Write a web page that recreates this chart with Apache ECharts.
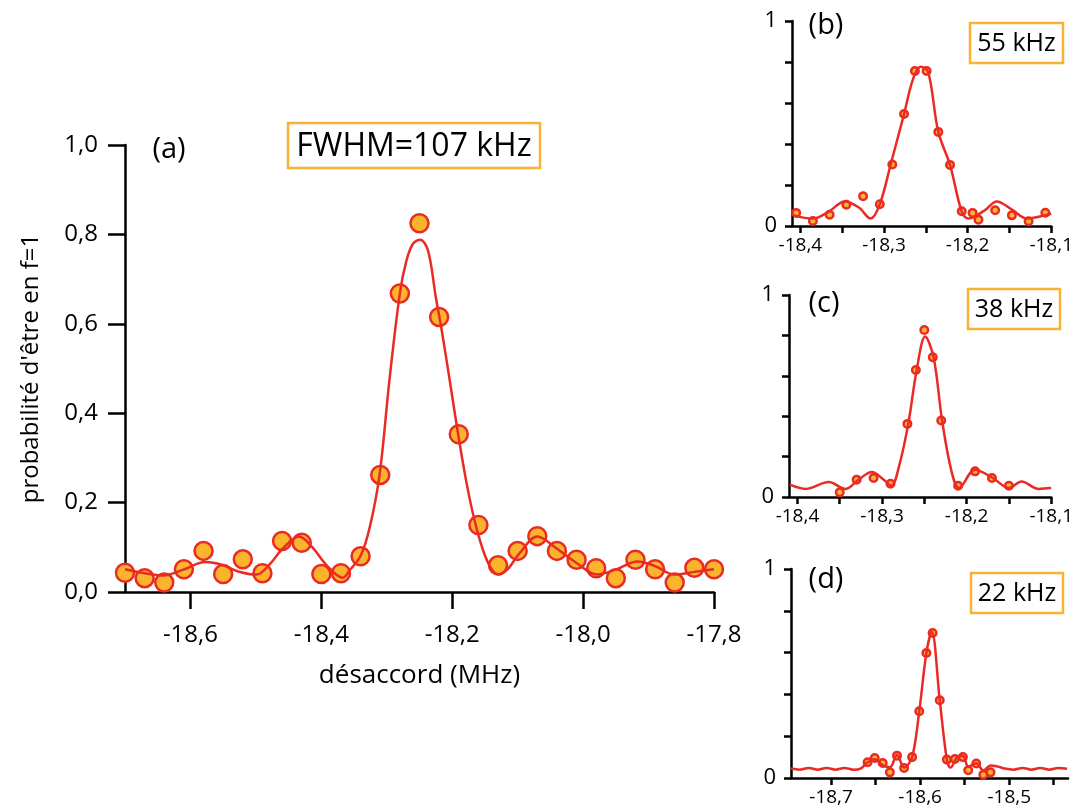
<!DOCTYPE html>
<html>
<head>
<meta charset="utf-8">
<script src="https://cdn.jsdelivr.net/npm/echarts@6/dist/echarts.min.js"></script>
<style>
  html, body { margin: 0; padding: 0; background: #fff; }
  #chart { width: 1076px; height: 809px; }
</style>
</head>
<body>
<div id="chart"></div>
<script>
// (a) mesures + ajustement
var aX = [-18.70, -18.67, -18.64, -18.61, -18.58, -18.55, -18.52, -18.49, -18.46, -18.43, -18.40, -18.37, -18.34, -18.31, -18.28, -18.25,
  -18.22, -18.19, -18.16, -18.13, -18.10, -18.07, -18.04, -18.01, -17.98, -17.95, -17.92, -17.89, -17.86, -17.83, -17.80];
var aY = [0.043, 0.031, 0.021, 0.051, 0.092, 0.040, 0.073, 0.042, 0.114, 0.110, 0.040, 0.042, 0.080, 0.262, 0.668, 0.825,
  0.615, 0.353, 0.150, 0.060, 0.092, 0.125, 0.092, 0.072, 0.053, 0.031, 0.072, 0.051, 0.021, 0.054, 0.051];
var aFitX = [-18.70, -18.67, -18.641, -18.611, -18.577, -18.552, -18.527, -18.499, -18.477, -18.461, -18.434, -18.415, -18.39, -18.367,
  -18.357, -18.340, -18.326, -18.311, -18.296, -18.280, -18.270, -18.260, -18.249, -18.237, -18.225, -18.216, -18.203, -18.191,
  -18.178, -18.166, -18.153, -18.141, -18.130, -18.116, -18.097, -18.070, -18.041, -18.010, -17.979, -17.95, -17.917, -17.89,
  -17.861, -17.83, -17.80];
var aFitY = [0.051, 0.042, 0.037, 0.050, 0.067, 0.061, 0.046, 0.039, 0.065, 0.094, 0.124, 0.102, 0.057, 0.032,
  0.048, 0.081, 0.145, 0.262, 0.473, 0.668, 0.741, 0.779, 0.788, 0.764, 0.659, 0.585, 0.466, 0.353,
  0.243, 0.161, 0.094, 0.054, 0.039, 0.050, 0.087, 0.124, 0.098, 0.065, 0.039, 0.050, 0.068, 0.058,
  0.039, 0.045, 0.051];

// (b) 55 kHz
var bX = [-18.405, -18.385, -18.365, -18.345, -18.325, -18.305, -18.29, -18.276, -18.263, -18.249, -18.235, -18.221, -18.207,
  -18.194, -18.187, -18.167, -18.147, -18.127, -18.107];
var bY = [0.064, 0.024, 0.055, 0.104, 0.145, 0.106, 0.300, 0.546, 0.756, 0.756, 0.459, 0.298, 0.072,
  0.064, 0.031, 0.077, 0.052, 0.023, 0.065];
var bFitX = [-18.408, -18.385, -18.366, -18.347, -18.33, -18.316, -18.305, -18.292, -18.276, -18.265, -18.256, -18.247, -18.235,
  -18.221, -18.207, -18.199, -18.18, -18.165, -18.147, -18.129, -18.115, -18.1];
var bFitY = [0.052, 0.036, 0.07, 0.120, 0.09, 0.036, 0.106, 0.300, 0.546, 0.72, 0.777, 0.75, 0.459,
  0.298, 0.07, 0.036, 0.075, 0.12, 0.08, 0.036, 0.045, 0.06];

// (c) 38 kHz
var cX = [-18.35, -18.33, -18.31, -18.29, -18.27, -18.26, -18.25, -18.24, -18.23, -18.21, -18.19, -18.17, -18.15];
var cY = [0.023, 0.086, 0.094, 0.066, 0.362, 0.629, 0.827, 0.692, 0.379, 0.056, 0.127, 0.094, 0.056];
var cFitX = [-18.409, -18.39, -18.363, -18.343, -18.328, -18.312, -18.298, -18.289, -18.28, -18.269, -18.259, -18.249, -18.239,
  -18.229, -18.218, -18.209, -18.19, -18.169, -18.15, -18.135, -18.115, -18.1];
var cFitY = [0.061, 0.040, 0.074, 0.040, 0.085, 0.124, 0.085, 0.056, 0.15, 0.362, 0.629, 0.794, 0.69,
  0.379, 0.13, 0.044, 0.135, 0.094, 0.044, 0.077, 0.040, 0.044];

// (d) 22 kHz
var dX = [-18.659, -18.651, -18.642, -18.634, -18.626, -18.618, -18.609, -18.601, -18.593, -18.586, -18.578, -18.570,
  -18.561, -18.552, -18.546, -18.537, -18.529, -18.521];
var dY = [0.075, 0.096, 0.072, 0.027, 0.107, 0.048, 0.100, 0.319, 0.598, 0.694, 0.372, 0.088,
  0.091, 0.100, 0.037, 0.069, 0.016, 0.027];
var dFitX = [-18.745, -18.735, -18.725, -18.715, -18.705, -18.695, -18.685, -18.675, -18.667, -18.659, -18.651, -18.642, -18.634,
  -18.626, -18.618, -18.609, -18.601, -18.593, -18.587, -18.578, -18.570, -18.566, -18.558, -18.552, -18.546, -18.537, -18.529,
  -18.521, -18.513, -18.505, -18.495, -18.485, -18.475, -18.465, -18.455, -18.445, -18.435];
var dFitY = [0.045, 0.040, 0.048, 0.040, 0.048, 0.040, 0.048, 0.040, 0.045, 0.075, 0.09, 0.06, 0.051,
  0.11, 0.05, 0.10, 0.32, 0.598, 0.70, 0.372, 0.088, 0.05, 0.10, 0.105, 0.055, 0.07, 0.036,
  0.06, 0.055, 0.045, 0.040, 0.048, 0.040, 0.048, 0.040, 0.048, 0.044];

var RED = '#EA2A24';
var ORANGE = '#FBB42B';
var FONT = '"Open Sans", "Noto Sans", sans-serif';

function pairs(xs, ys) {
  return xs.map(function (x, i) { return [x, ys[i]]; });
}
function comma(v) {
  return v.toFixed(1).replace('.', ',');
}

// petit panneau (b), (c), (d)
function smallX(idx, min, max, ticks, labels) {
  return {
    gridIndex: idx, type: 'value', min: min, max: max,
    axisLine: { lineStyle: { color: '#000', width: 2.5 } },
    axisTick: { customValues: ticks, length: 7, lineStyle: { color: '#000', width: 2.5 } },
    axisLabel: { customValues: labels, formatter: comma, margin: 10, color: '#000', fontSize: 19, fontFamily: FONT },
    splitLine: { show: false }
  };
}
function smallY(idx) {
  return {
    gridIndex: idx, type: 'value', min: 0, max: 1, interval: 0.2,
    axisLine: { show: true, lineStyle: { color: '#000', width: 2.5 } },
    axisTick: { show: true, length: 7, lineStyle: { color: '#000', width: 2.5 } },
    axisLabel: { customValues: [0, 1], margin: 15, color: '#000', fontSize: 22, fontFamily: FONT },
    splitLine: { show: false }
  };
}
function dots(idx, xs, ys, size, bw) {
  return {
    type: 'scatter', xAxisIndex: idx, yAxisIndex: idx, data: pairs(xs, ys), clip: false,
    symbolSize: size, itemStyle: { color: ORANGE, borderColor: RED, borderWidth: bw, opacity: 1 }, z: 2
  };
}
function fit(idx, xs, ys, w) {
  return {
    type: 'line', xAxisIndex: idx, yAxisIndex: idx, data: pairs(xs, ys), smooth: 0.35,
    showSymbol: false, lineStyle: { color: RED, width: w }, z: 3
  };
}
function box(x, y, w, h, txt, size) {
  return [
    { type: 'rect', shape: { x: x, y: y, width: w, height: h }, style: { fill: '#fff', stroke: '#F9B233', lineWidth: 2.5 }, z: 10 },
    { type: 'text', x: x + w / 2, y: y + h / 2 + 1, style: { text: txt, fill: '#000', font: size + 'px ' + FONT, align: 'center', verticalAlign: 'middle' }, z: 11 }
  ];
}
function panelLabel(x, y, txt, size) {
  return { type: 'text', x: x, y: y, style: { text: txt, fill: '#000', font: size + 'px ' + FONT, align: 'center', verticalAlign: 'middle' }, z: 11 };
}

var myChart = echarts.init(document.getElementById('chart'));
var option = {
  backgroundColor: '#fff',
  animation: false,
  grid: [
    { left: 125, top: 145, width: 589, height: 447 },
    { left: 792, top: 21, width: 270, height: 205 },
    { left: 789, top: 295, width: 268, height: 202 },
    { left: 791, top: 569, width: 277, height: 209 }
  ],
  xAxis: [
    {
      gridIndex: 0, type: 'value', min: -18.7, max: -17.8,
      name: 'désaccord (MHz)', nameLocation: 'middle', nameGap: 71,
      nameTextStyle: { color: '#000', fontSize: 26, fontFamily: FONT },
      axisLine: { lineStyle: { color: '#000', width: 2.5 } },
      axisTick: { customValues: [-18.6, -18.4, -18.2, -18.0, -17.8], length: 17, lineStyle: { color: '#000', width: 2.5 } },
      axisLabel: { customValues: [-18.6, -18.4, -18.2, -18.0, -17.8], formatter: comma, margin: 31, color: '#000', fontSize: 24, fontFamily: FONT },
      splitLine: { show: false }
    },
    smallX(1, -18.41, -18.1, [-18.4, -18.35, -18.3, -18.25, -18.2, -18.15, -18.1], [-18.4, -18.3, -18.2, -18.1]),
    smallX(2, -18.41, -18.1, [-18.4, -18.35, -18.3, -18.25, -18.2, -18.15, -18.1], [-18.4, -18.3, -18.2, -18.1]),
    smallX(3, -18.745, -18.434, [-18.7, -18.65, -18.6, -18.55, -18.5, -18.45], [-18.7, -18.6, -18.5])
  ],
  yAxis: [
    {
      gridIndex: 0, type: 'value', min: 0, max: 1, interval: 0.2,
      name: "probabilité d'être en f=1", nameLocation: 'middle', nameGap: 82,
      nameTextStyle: { color: '#000', fontSize: 24, fontFamily: FONT },
      axisLine: { show: true, lineStyle: { color: '#000', width: 2.5 } },
      axisTick: { show: true, length: 17, lineStyle: { color: '#000', width: 2.5 } },
      axisLabel: { formatter: comma, margin: 27, color: '#000', fontSize: 24, fontFamily: FONT },
      splitLine: { show: false }
    },
    smallY(1), smallY(2), smallY(3)
  ],
  series: [
    dots(0, aX, aY, 18, 2.5), fit(0, aFitX, aFitY, 2.5),
    dots(1, bX, bY, 7.5, 2.5), fit(1, bFitX, bFitY, 2.5),
    dots(2, cX, cY, 7.5, 2.5), fit(2, cFitX, cFitY, 2.5),
    dots(3, dX, dY, 7.5, 2.5), fit(3, dFitX, dFitY, 2.5)
  ],
  graphic: [
    panelLabel(169, 150, '(a)', 29),
    panelLabel(826, 26, '(b)', 29),
    panelLabel(824, 304, '(c)', 29),
    panelLabel(826, 580, '(d)', 29)
  ].concat(box(288, 123, 252, 45, 'FWHM=107 kHz', 32))
   .concat(box(970, 23, 93, 40, '55 kHz', 25))
   .concat(box(968, 289, 92, 40, '38 kHz', 25))
   .concat(box(971, 573, 92, 40, '22 kHz', 25))
};
myChart.setOption(option, true);
</script>
</body>
</html>
